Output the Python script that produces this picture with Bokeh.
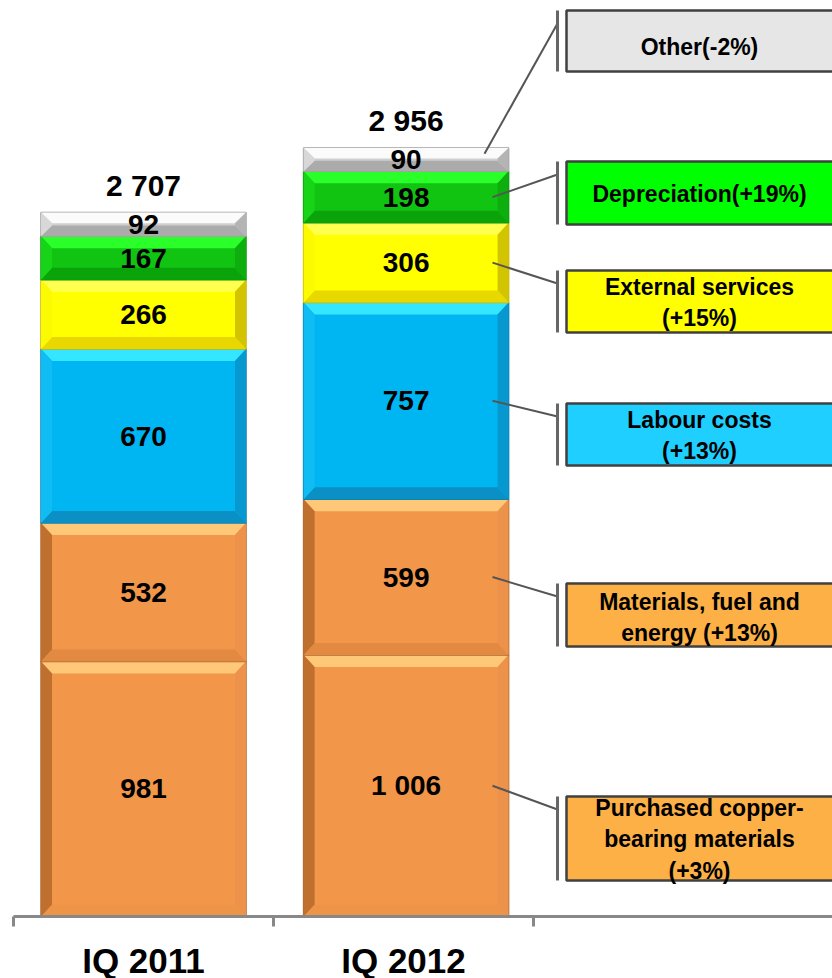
from bokeh.plotting import figure
from bokeh.models import FixedTicker, CustomJSTickFormatter, Range1d
from bokeh.core.properties import value
from bokeh.embed import file_html
from bokeh.resources import INLINE

# ---------------- data ----------------
CATEGORIES = ["IQ 2011", "IQ 2012"]
SERIES = ["Purchased copper-bearing materials", "Materials, fuel and energy",
          "Labour costs", "External services", "Depreciation", "Other"]
IQ2011 = [981, 532, 670, 266, 167, 92]
IQ2012 = [1006, 599, 757, 306, 198, 90]
TOTALS = [2707, 2956]
LEGEND_TEXT = ["Purchased copper-\nbearing materials\n(+3%)",
               "Materials, fuel and\nenergy (+13%)",
               "Labour costs\n(+13%)",
               "External services\n(+15%)",
               "Depreciation(+19%)",
               "Other(-2%)"]

# ---------------- styles ----------------
# body, light(top), dark(bottom), left, right, outline
STYLE = [
    ("#f2964a", "#ffc878", "#ee9448", "#c0702e", "#ec924a", "#b06830"),
    ("#f2964a", "#ffc878", "#e28a42", "#c0702e", "#ec924a", "#b06830"),
    ("#00b6f2", "#34e6ff", "#0a90c4", "#10bcf4", "#0898d0", "#0a80b0"),
    ("#ffff00", "#ffff50", "#e8d800", "#fcfa00", "#d2c400", "#c8b400"),
    ("#12c412", "#2aff2a", "#0aa40a", "#18d418", "#0eae0e", "#0a960a"),
    ("#cfcfcf", "#fbfbfb", "#ababab", "#d8d8d8", "#b4b4b4", "#a0a0a0"),
]
BOX_FILL = ["#fdb045", "#fdb045", "#1ecfff", "#ffff00", "#00ff00", "#e6e6e6"]
# layout (pixel positions of legend boxes: top, bottom, text centre)
BOX_PX = [(796, 880, 839), (583, 646, 617), (403, 465, 435),
          (270, 332, 302), (161, 224, 193), (10, 71, 46)]

PX_PER_X = 260.0
PX_PER_Y = 0.26
LEFT_PX = 13
BASE_PX = 916


def px_x(px):
    return (px - LEFT_PX) / PX_PER_X - 0.5


def px_y(py):
    return (BASE_PX - py) / PX_PER_Y


def fmt(v):
    return f"{v:,}".replace(",", " ")


p = figure(frame_width=832 - LEFT_PX, frame_height=BASE_PX,
           min_border_left=LEFT_PX, min_border_right=0, min_border_top=0,
           min_border_bottom=62, output_backend="svg", toolbar_location=None,
           x_range=Range1d(-0.5, px_x(832)), y_range=Range1d(0, px_y(0)),
           y_axis_location=None)
p.outline_line_color = None
p.xgrid.visible = False
p.ygrid.visible = False
p.background_fill_color = "white"
p.border_fill_color = "white"

BAR_W = 205 / PX_PER_X
BAR_X = [0.0, 1.01]
BX = 11 / PX_PER_X

font = value("Liberation Sans")

for ci, vals in enumerate([IQ2011, IQ2012]):
    xc = BAR_X[ci]
    x0, x1 = xc - BAR_W / 2, xc + BAR_W / 2
    bottom = 0
    for si, v in enumerate(vals):
        top = bottom + v
        body, light, dark, lft, rgt, outl = STYLE[si]
        p.quad(left=[x0], right=[x1], bottom=[bottom], top=[top],
               fill_color=body, line_color=outl, line_width=1.5)
        hpx = v * PX_PER_Y
        by = min(12, hpx / 2.2) / PX_PER_Y
        polys = [
            ([x0, x1, x1 - BX, x0 + BX], [top, top, top - by, top - by], light),
            ([x0, x1, x1 - BX, x0 + BX], [bottom, bottom, bottom + by, bottom + by], dark),
            ([x0, x0, x0 + BX, x0 + BX], [bottom, top, top - by, bottom + by], lft),
            ([x1, x1, x1 - BX, x1 - BX], [bottom, top, top - by, bottom + by], rgt),
        ]
        p.patches(xs=[q[0] for q in polys], ys=[q[1] for q in polys],
                  fill_color=[q[2] for q in polys], line_color=None)
        p.text(x=[xc], y=[(bottom + top) / 2], text=[fmt(v)],
               text_font=font, text_font_style="bold", text_font_size="28px",
               text_align="center", text_baseline="middle", text_color="black")
        bottom = top
    p.text(x=[xc], y=[TOTALS[ci] + 27 / PX_PER_Y], text=[fmt(TOTALS[ci])],
           text_font=font, text_font_style="bold", text_font_size="30px",
           text_align="center", text_baseline="middle", text_color="black")

# ---------------- callouts ----------------
cum = 0
box_left = px_x(566)
box_right = px_x(836)
bracket_x = px_x(557)
anchor_x = px_x(492)
for si, v in enumerate(IQ2012):
    mid = cum + v / 2
    cum += v
    btop, bbot, tcy = BOX_PX[si]
    anchor_y = mid if si < 5 else cum - 0.25 * v
    ax_px = anchor_x if si < 5 else px_x(484)
    p.line(x=[ax_px, bracket_x], y=[anchor_y, px_y(btop + 13)],
           line_color="#555555", line_width=2)
    p.line(x=[bracket_x, bracket_x], y=[px_y(btop), px_y(bbot)],
           line_color="#666666", line_width=3)
    p.quad(left=[box_left], right=[box_right], top=[px_y(btop)], bottom=[px_y(bbot)],
           fill_color=BOX_FILL[si], line_color="#404040", line_width=2.5)
    p.text(x=[px_x(699)], y=[px_y(tcy)], text=[LEGEND_TEXT[si]],
           text_font=font, text_font_style="bold", text_font_size="23px",
           text_align="center", text_baseline="middle", text_color="black",
           text_line_height=1.2)

# ---------------- axis ----------------
ax = p.xaxis[0]
ax.ticker = FixedTicker(ticks=[0, 1], minor_ticks=[-0.5, 0.5, 1.5])
ax.formatter = CustomJSTickFormatter(args=dict(labels=CATEGORIES),
                                     code="const i = Math.round(tick); return labels[i] ?? '';")
ax.axis_line_color = "#888888"
ax.axis_line_width = 3
ax.major_tick_line_color = None
ax.major_tick_out = 0
ax.major_tick_in = 0
ax.minor_tick_line_color = "#888888"
ax.minor_tick_line_width = 3
ax.minor_tick_out = 10
ax.minor_tick_in = 0
ax.major_label_standoff = 14
ax.major_label_text_font = "Liberation Sans"
ax.major_label_text_font_style = "bold"
ax.major_label_text_font_size = "35px"
ax.major_label_text_color = "black"

open("out.html", "w").write(file_html(p, INLINE))
